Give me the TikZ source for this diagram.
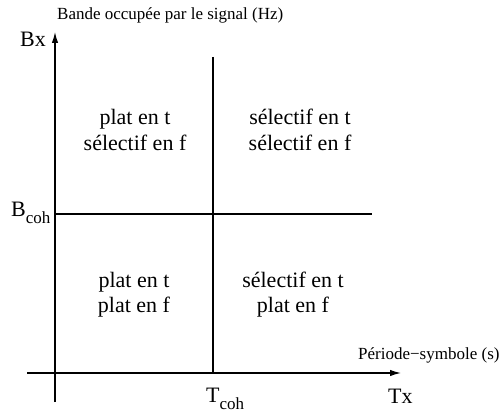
\documentclass[tikz,border=0pt]{standalone}
\usepackage{fontspec}
\setmainfont{Liberation Serif}
\usetikzlibrary{arrows.meta}
\newcommand{\bigtxt}{\fontsize{22}{24}\selectfont}
\newcommand{\smalltxt}{\fontsize{17}{19}\selectfont}
\newcommand{\coh}[1]{#1\raisebox{-7.5pt}{\fontsize{17}{17}\selectfont coh}}
\begin{document}
\begin{tikzpicture}[x=1pt,y=-1pt,
  axis/.style={line width=1.4pt,-{Latex[length=11pt,width=6.5pt]}},
  divider/.style={line width=1.2pt},
  zone/.style={font=\bigtxt,anchor=base,inner sep=0pt},
  axlabel/.style={font=\bigtxt,anchor=base west,inner sep=0pt},
  unit/.style={font=\smalltxt,anchor=base west,inner sep=0pt}]
\useasboundingbox (0,0) rectangle (500,414);

% axes
\coordinate (yfoot) at (55,402);
\coordinate (ytip) at (55,32);
\coordinate (xfoot) at (27,373);
\coordinate (xtip) at (401,373);
\draw[axis] (yfoot) -- (ytip);
\draw[axis] (xfoot) -- (xtip);

% coherence limits
\coordinate (ttop) at (213,57);
\coordinate (tbot) at (213,373);
\coordinate (bleft) at (55,214);
\coordinate (bright) at (372,214);
\draw[divider] (ttop) -- (tbot);
\draw[divider] (bleft) -- (bright);

% axis labels
\node[axlabel] (bx) at (20,47) {Bx};
\node[unit] (bunit) at (57,20) {Bande occupée par le signal (Hz)};
\node[axlabel] (tx) at (388,403) {Tx};
\node[unit] (tunit) at (358,359) {Période−symbole (s)};
\node[axlabel] (bcoh) at (11,216) {\coh{B}};
\node[axlabel] (tcoh) at (206,402) {\coh{T}};

% the four regions
\node[zone] (q1a) at (135,125) {plat en t};
\node[zone] (q1b) at (135,151) {sélectif en f};
\node[zone] (q2a) at (300,125) {sélectif en t};
\node[zone] (q2b) at (300,151) {sélectif en f};
\node[zone] (q3a) at (134,287) {plat en t};
\node[zone] (q3b) at (134,312) {plat en f};
\node[zone] (q4a) at (293,287) {sélectif en t};
\node[zone] (q4b) at (293,312) {plat en f};
\end{tikzpicture}
\end{document}
